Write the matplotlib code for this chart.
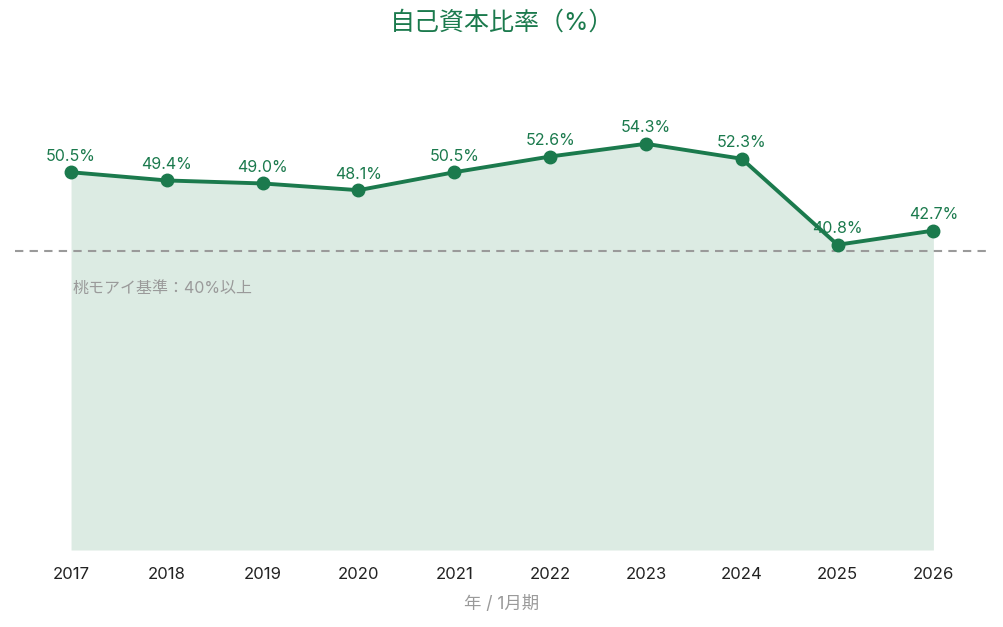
import matplotlib
matplotlib.use("Agg")
import matplotlib.pyplot as plt

plt.rcParams['font.family'] = ['Inter', 'Noto Sans CJK JP', 'DejaVu Sans']

years = ["2017", "2018", "2019", "2020", "2021", "2022", "2023", "2024", "2025", "2026"]
ratio = [50.5, 49.4, 49.0, 48.1, 50.5, 52.6, 54.3, 52.3, 40.8, 42.7]
threshold = 40
title = "自己資本比率（%）"
xlabel = "年 / 1月期"
threshold_label = "桃モアイ基準：40%以上"

green = "#1b7a4d"
fill = "#dcebe3"
gray = "#9a9a9a"

fig = plt.figure(figsize=(10.04, 6.27), dpi=100)
ax = fig.add_axes([15/1004, (627-550)/627, (988-15)/1004, (550-69)/627])
x = list(range(len(years)))
ax.fill_between(x, 0, ratio, color=fill, lw=0, zorder=1)
ax.axhline(threshold, color=gray, ls=(0, (4, 3)), lw=1.5, zorder=2)
ax.plot(x, ratio, color=green, lw=2.8, marker='o', ms=9, zorder=3)
for xi, v in zip(x, ratio):
    ax.annotate(f"{v:.1f}%", (xi, v), xytext=(0, 6), textcoords='offset points',
                ha='center', va='bottom', color=green, fontsize=11.5, zorder=4)
ax.text(0.01, threshold - 5.0, threshold_label, color=gray, fontsize=11.5,
        ha='left', va='center')
ax.set_xlim(-0.585, 9.57)
ax.set_ylim(0, 64.3)
ax.set_xticks(x)
ax.set_xticklabels(years, fontsize=12, color="#222222")
ax.tick_params(axis='x', length=0, pad=12)
ax.set_yticks([])
for s in ax.spines.values():
    s.set_visible(False)
ax.set_xlabel(xlabel, color=gray, fontsize=12.5, labelpad=10)
fig.text(0.5, 1 - 23/627, title, color=green, fontsize=18, ha='center', va='center')
fig.savefig("out.png", dpi=100)
